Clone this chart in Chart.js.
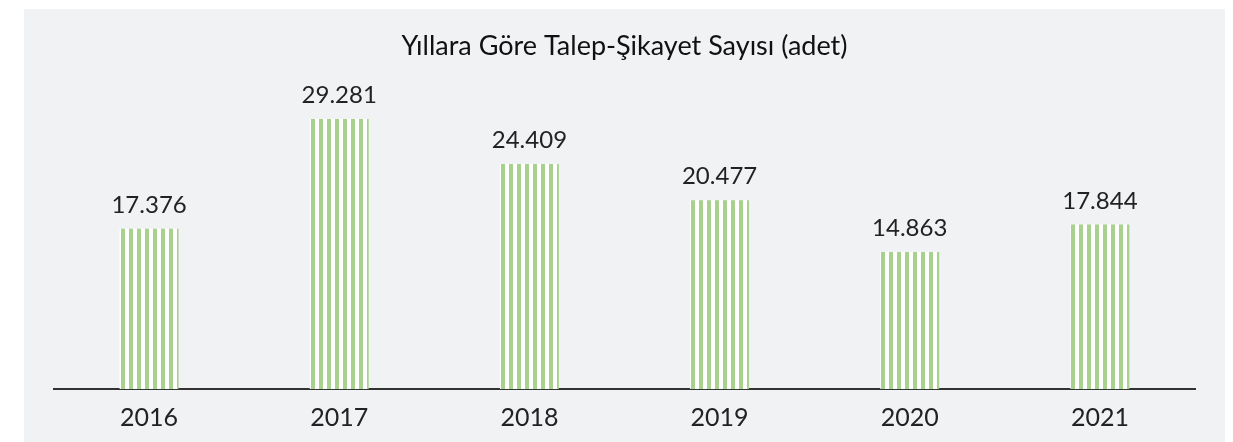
<!DOCTYPE html>
<html lang="tr">
<head>
<meta charset="utf-8">
<script src="https://cdn.jsdelivr.net/npm/chart.js@4.4.0/dist/chart.umd.min.js"></script>
<style>
  html, body { margin: 0; padding: 0; background: #fff; }
  #panel {
    position: absolute; left: 24px; top: 9px;
    width: 1201px; height: 433px; background: #f1f2f4; overflow: hidden;
  }
  #chart { display: block; }
</style>
</head>
<body>
<div id="panel"><canvas id="chart" width="1201" height="447"></canvas></div>
<script>
'use strict';

/* ── Data ─────────────────────────────────────────────── */
const years = ['2016', '2017', '2018', '2019', '2020', '2021'];
const complaints = [17376, 29281, 24409, 20477, 14863, 17844];

const GREEN = '#a9d18e';
const FONT = "Lato, 'Open Sans', sans-serif";

/* striped fill, aligned to each bar's left edge */
function stripePattern(ctx, offsetX) {
    const tile = document.createElement('canvas');
    tile.width = 8; tile.height = 8;
    const t = tile.getContext('2d');
    t.fillStyle = '#ffffff';
    t.fillRect(0, 0, 8, 8);
    t.fillStyle = GREEN;
    t.fillRect(1, 0, 4, 8);
    const p = ctx.createPattern(tile, 'repeat');
    if (p.setTransform) p.setTransform(new DOMMatrix().translate(offsetX, 0));
    return p;
}

const fmt = v => v.toString().replace(/\B(?=(\d{3})+(?!\d))/g, '.');

/* value labels above bars */
const valueLabels = {
    id: 'valueLabels',
    afterDatasetsDraw(chart) {
        const { ctx } = chart;
        const meta = chart.getDatasetMeta(0);
        ctx.save();
        ctx.font = `24px ${FONT}`;
        ctx.fillStyle = '#222';
        ctx.textAlign = 'center';
        ctx.textBaseline = 'alphabetic';
        meta.data.forEach((bar, i) => {
            ctx.fillText(fmt(complaints[i]), bar.x, bar.y - 16);
        });
        ctx.restore();
    }
};

const ctx = document.getElementById('chart').getContext('2d');

new Chart(ctx, {
    type: 'bar',
    data: {
        labels: years,
        datasets: [{
            data: complaints,
            backgroundColor: c => {
                const xs = c.chart.scales.x;
                if (!xs || xs.getPixelForValue(c.dataIndex) == null) return GREEN;
                const w = xs.width / years.length * 0.31;
                return stripePattern(c.chart.ctx, Math.round(xs.getPixelForValue(c.dataIndex) - w / 2));
            },
            borderWidth: 0,
            barPercentage: 0.31,
            categoryPercentage: 1,
        }],
    },
    options: {
        responsive: false,
        animation: false,
        layout: { padding: { left: 30, right: 30, top: 0, bottom: 9 } },
        plugins: {
            legend: { display: false },
            tooltip: { enabled: false },
            title: {
                display: true,
                text: 'Yıllara Göre Talep-Şikayet Sayısı (adet)',
                color: '#111',
                font: { family: FONT, size: 27, weight: 'normal' },
                padding: { top: 21, bottom: 4 },
            },
        },
        scales: {
            y: {
                display: false,
                min: 0,
                max: 35000,
            },
            x: {
                grid: { display: false, drawTicks: false },
                border: { display: true, color: '#333', width: 2 },
                ticks: {
                    color: '#222',
                    padding: 14,
                    font: { family: FONT, size: 25 },
                },
            },
        },
    },
    plugins: [valueLabels],
});
</script>
</body>
</html>
